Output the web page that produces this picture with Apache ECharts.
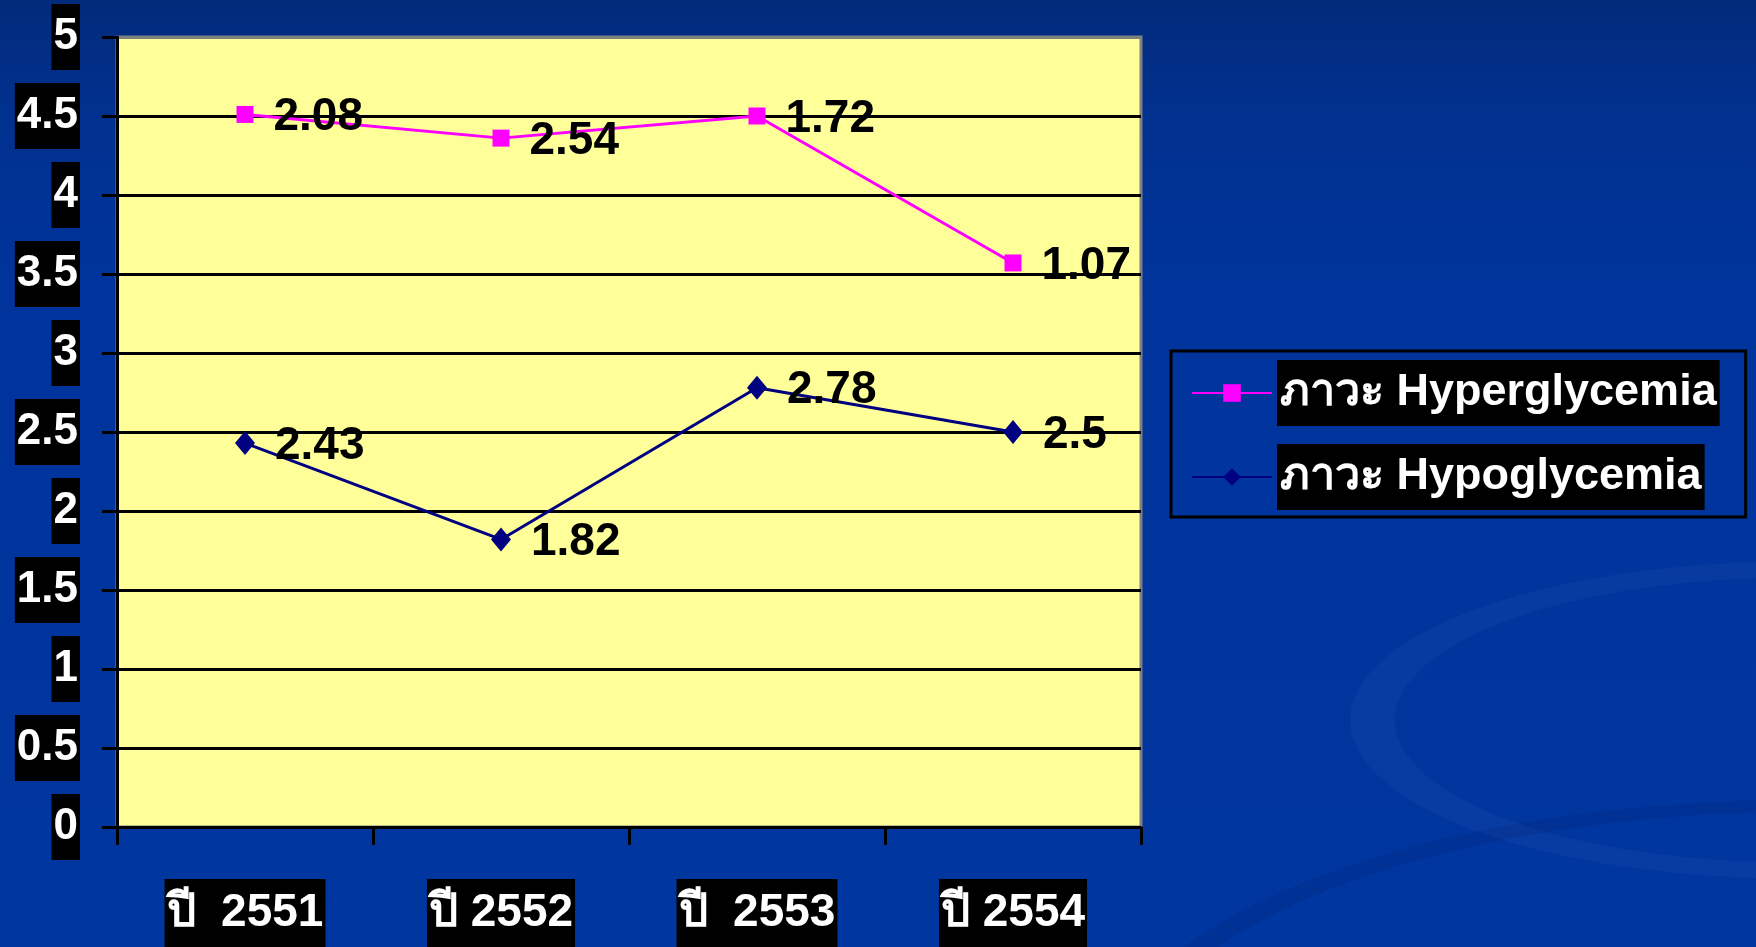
<!DOCTYPE html>
<html>
<head>
<meta charset="utf-8">
<script src="https://cdn.jsdelivr.net/npm/echarts@6/dist/echarts.min.js"></script>
<style>
html,body{margin:0;padding:0;background:#0033a0;}
#c{width:1756px;height:947px;}
</style>
</head>
<body>
<div id="c"></div>
<script>
const categories = ['ปี  2551', 'ปี 2552', 'ปี  2553', 'ปี 2554'];
const hypoName = 'ภาวะ Hypoglycemia';
const hyperName = 'ภาวะ Hyperglycemia';
const hypoValues = [2.43, 1.82, 2.78, 2.5];
const hyperValues = [2.08, 2.54, 1.72, 1.07];
const yTicks = { min: 0, max: 5, interval: 0.5 };

const FONT = "'Liberation Sans Narrow','Arial Narrow','Liberation Sans',Arial,sans-serif";

const chart = echarts.init(document.getElementById('c'), null, { renderer: 'canvas' });

const splitColors = [];
for (let i = 0; i <= 10; i++) splitColors.push(i === 10 ? '#808080' : '#000000');

const labelStyle = {
  show: true,
  position: 'right',
  distance: 20,
  offset: [0, 3],
  color: '#000',
  fontFamily: FONT,
  fontWeight: 'bold',
  fontSize: 46,
  formatter: p => String(p.value)
};

chart.setOption({
  backgroundColor: {
    type: 'linear', x: 0, y: 0, x2: 0, y2: 1,
    colorStops: [
      { offset: 0, color: '#022a7a' },
      { offset: 0.12, color: '#01318f' },
      { offset: 0.3, color: '#00349c' },
      { offset: 1, color: '#00369f' }
    ]
  },
  animation: false,
  graphic: [
    { type: 'ring', shape: { cx: 1790, cy: 720, r: 440, r0: 395 }, style: { fill: 'rgba(255,255,255,0.03)' }, z: -10, scaleY: 0.36, originX: 1790, originY: 720 },
    { type: 'ring', shape: { cx: 1800, cy: 1080, r: 700, r0: 670 }, style: { fill: 'rgba(0,10,60,0.10)' }, z: -10, scaleY: 0.4, originX: 1800, originY: 1080 }
  ],
  grid: { left: 117, top: 37, right: 615, bottom: 114, show: true, backgroundColor: '#ffff99', borderColor: '#808080', borderWidth: 3 },
  legend: {
    orient: 'vertical',
    left: 1171,
    top: 351,
    padding: [9, 26, 7, 20],
    itemGap: 18,
    itemWidth: 80,
    itemHeight: 22,
    borderColor: '#000',
    borderWidth: 3,
    data: [hyperName, hypoName],
    textStyle: {
      color: '#fff',
      backgroundColor: '#000',
      fontFamily: FONT,
      fontWeight: 'bold',
      fontSize: 45,
      padding: [9, 3, 9, 3],
      lineHeight: 48
    }
  },
  xAxis: {
    type: 'category',
    data: categories,
    boundaryGap: true,
    axisLine: { show: true, lineStyle: { color: '#000', width: 3 } },
    axisTick: { show: true, length: 18, lineStyle: { color: '#000', width: 3 } },
    axisLabel: {
      margin: 52,
      color: '#fff',
      backgroundColor: '#000',
      fontFamily: FONT,
      fontWeight: 'bold',
      fontSize: 46,
      padding: [6, 2, 6, 2],
      lineHeight: 56
    },
    splitLine: { show: false }
  },
  yAxis: {
    type: 'value',
    min: yTicks.min,
    max: yTicks.max,
    interval: yTicks.interval,
    axisLine: { show: true, lineStyle: { color: '#000', width: 3 } },
    axisTick: { show: true, length: 15, lineStyle: { color: '#000', width: 3 } },
    axisLabel: {
      margin: 37,
      color: '#fff',
      backgroundColor: '#000',
      fontFamily: FONT,
      fontWeight: 'bold',
      fontSize: 44,
      padding: [9, 2, 9, 2],
      lineHeight: 48
    },
    splitLine: { show: true, lineStyle: { color: splitColors, width: 3 } }
  },
  series: [
    {
      name: hypoName,
      type: 'line',
      stack: 'total',
      data: hypoValues,
      symbol: 'diamond',
      symbolSize: [20, 24],
      itemStyle: { color: '#000080' },
      lineStyle: { color: '#000080', width: 3 },
      label: labelStyle,
      z: 3
    },
    {
      name: hyperName,
      type: 'line',
      stack: 'total',
      data: hyperValues,
      symbol: 'rect',
      symbolSize: 17,
      itemStyle: { color: '#ff00ff' },
      lineStyle: { color: '#ff00ff', width: 3 },
      label: labelStyle,
      z: 3
    }
  ]
});
</script>
</body>
</html>
